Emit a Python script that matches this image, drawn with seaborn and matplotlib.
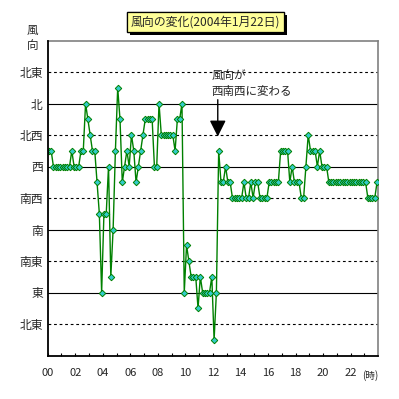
import matplotlib
matplotlib.use("Agg")
import matplotlib.pyplot as plt
import matplotlib.patheffects as pe
import numpy as np
import pandas as pd
import seaborn as sns

# ---- data: wind direction every 10 minutes (level index, 0.5 = one 16-point step) ----
# level scale: 1=北東, 2=東, 3=南東, 4=南, 5=南西, 6=西, 7=北西, 8=北, 9=北東
dir_00h = [6.5, 6.5, 6.0, 6.0, 6.0, 6.0]
dir_01h = [6.0, 6.0, 6.0, 6.0, 6.5, 6.0]
dir_02h = [6.0, 6.0, 6.5, 6.5, 8.0, 7.5]
dir_03h = [7.0, 6.5, 6.5, 5.5, 4.5, 2.0]
dir_04h = [4.5, 4.5, 6.0, 2.5, 4.0, 6.5]
dir_05h = [8.5, 7.5, 5.5, 6.0, 6.5, 6.0]
dir_06h = [7.0, 6.5, 5.5, 6.0, 6.5, 7.0]
dir_07h = [7.5, 7.5, 7.5, 7.5, 6.0, 6.0]
dir_08h = [8.0, 7.0, 7.0, 7.0, 7.0, 7.0]
dir_09h = [7.0, 6.5, 7.5, 7.5, 8.0, 2.0]
dir_10h = [3.5, 3.0, 2.5, 2.5, 2.5, 1.5]
dir_11h = [2.5, 2.0, 2.0, 2.0, 2.0, 2.5]
dir_12h = [0.5, 2.0, 6.5, 5.5, 5.5, 6.0]
dir_13h = [5.5, 5.5, 5.0, 5.0, 5.0, 5.0]
dir_14h = [5.0, 5.5, 5.0, 5.0, 5.5, 5.0]
dir_15h = [5.5, 5.5, 5.0, 5.0, 5.0, 5.0]
dir_16h = [5.5, 5.5, 5.5, 5.5, 5.5, 6.5]
dir_17h = [6.5, 6.5, 6.5, 5.5, 6.0, 5.5]
dir_18h = [5.5, 5.5, 5.0, 5.0, 6.0, 7.0]
dir_19h = [6.5, 6.5, 6.5, 6.0, 6.5, 6.0]
dir_20h = [6.0, 6.0, 5.5, 5.5, 5.5, 5.5]
dir_21h = [5.5, 5.5, 5.5, 5.5, 5.5, 5.5]
dir_22h = [5.5, 5.5, 5.5, 5.5, 5.5, 5.5]
dir_23h = [5.5, 5.0, 5.0, 5.0, 5.0, 5.5]

hourly_blocks = [dir_00h, dir_01h, dir_02h, dir_03h, dir_04h, dir_05h, dir_06h, dir_07h,
                 dir_08h, dir_09h, dir_10h, dir_11h, dir_12h, dir_13h, dir_14h, dir_15h,
                 dir_16h, dir_17h, dir_18h, dir_19h, dir_20h, dir_21h, dir_22h, dir_23h]

y_levels = [1, 2, 3, 4, 5, 6, 7, 8, 9]
y_labels = ["北東", "東", "南東", "南", "南西", "西", "北西", "北", "北東"]
x_ticks = [0, 2, 4, 6, 8, 10, 12, 14, 16, 18, 20, 22]
x_labels = ["00", "02", "04", "06", "08", "10", "12", "14", "16", "18", "20", "22"]
title_text = "風向の変化(2004年1月22日)"
note_text = "風向が\n西南西に変わる"

levels = [v for block in hourly_blocks for v in block]
hours = [(i + 0.5) / 6.0 for i in range(len(levels))]
df = pd.DataFrame({"hour": hours, "level": levels})

sns.set_style("white")
plt.rcParams["font.family"] = ["Noto Sans CJK JP", "DejaVu Sans"]

W = H = 399
fig = plt.figure(figsize=(W / 100, H / 100), dpi=100)
left, right, top, bottom = 47.7, 378.2, 40.5, 355.5
ax = fig.add_axes([left / W, (H - bottom) / H, (right - left) / W, (bottom - top) / H])

# grid lines
for lv in [2, 4, 6, 8]:
    ax.axhline(lv, color="black", lw=0.8, zorder=1)
for lv in [1, 3, 5, 7, 9]:
    ax.axhline(lv, color="black", lw=0.8, ls=(0, (2.5, 2.5)), zorder=1)

sns.lineplot(data=df, x="hour", y="level", ax=ax, color="#008000", lw=1.0,
             marker="D", markersize=3.3, markerfacecolor="#33CCCC",
             markeredgecolor="#008000", markeredgewidth=0.7,
             estimator=None, sort=False, zorder=5)

ax.set_xlim(0, 24)
ax.set_ylim(0, 10)
ax.set_xlabel("")
ax.set_ylabel("")
ax.set_yticks(y_levels)
ax.set_yticklabels(y_labels, fontsize=8.5)
ax.set_xticks(x_ticks)
ax.set_xticklabels(x_labels, fontsize=8)
ax.set_xticks(range(1, 24, 2), minor=True)
ax.tick_params(axis="y", length=0, pad=3.5)
ax.tick_params(axis="x", which="both", direction="in", length=2.5, width=0.8,
               color="black", pad=9, bottom=True)

for s in ["left", "bottom"]:
    ax.spines[s].set_color("black")
    ax.spines[s].set_linewidth(1.3)
for s in ["top", "right"]:
    ax.spines[s].set_color("#808080")
    ax.spines[s].set_linewidth(1.2)
ax.spines["left"].set_zorder(6)

# arrow + note
ax.annotate("", xy=(12.35, 6.95), xytext=(12.35, 8.12),
            arrowprops=dict(arrowstyle="-|>,head_width=0.45,head_length=0.9",
                            color="black", lw=1.0,
                            mutation_scale=11, shrinkA=0, shrinkB=0), zorder=7)
ax.text(11.9, 8.18, note_text, fontsize=8.3, ha="left", va="bottom",
        linespacing=1.25, zorder=7)

# y-axis title and hour unit
fig.text(32.5 / W, 1 - 38 / H, "風\n向", fontsize=8.3, ha="center", va="center",
         linespacing=1.15)
fig.text(370 / W, 1 - 376 / H, "(時)", fontsize=7, ha="center", va="center")

# title box with shadow
t = fig.text(205.5 / W, 1 - 22 / H, title_text, fontsize=8.6, ha="center", va="center",
             bbox=dict(boxstyle="square,pad=0.3", fc="#FFFF99", ec="black", lw=0.9))
t.get_bbox_patch().set_path_effects([pe.withSimplePatchShadow(offset=(2.2, -2.2),
                                     shadow_rgbFace="black", alpha=1.0), pe.Normal()])

fig.savefig("out.png", dpi=100, facecolor="white")
